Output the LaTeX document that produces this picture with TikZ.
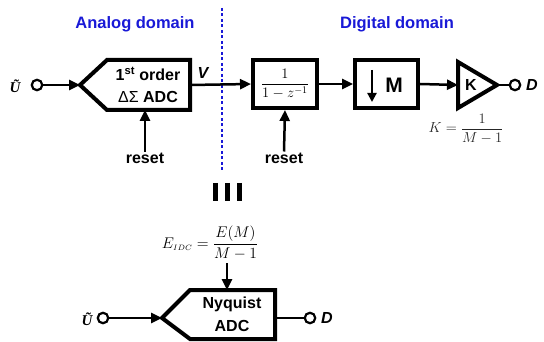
\RequirePackage{fix-cm}
\documentclass[tikz,border=0pt]{standalone}
\usepackage{amsmath}
\usepackage[no-math]{fontspec}
\setmainfont{Liberation Sans}
\newfontfamily\userif{Liberation Serif}
\usetikzlibrary{arrows.meta}
\definecolor{dblue}{RGB}{25,25,215}
\begin{document}
\begin{tikzpicture}[x=1pt,y=-1pt,
  blk/.style={line width=4pt,line join=miter},
  conn/.style={line width=2.5pt},
  arr/.style={conn,-{Triangle[length=11pt,width=10pt]}},
  port/.style={circle,draw,line width=2.2pt,minimum size=10.5pt,inner sep=0pt},
  lbl/.style={font=\fontsize{16}{18}\selectfont\bfseries,inner sep=1pt},
  dom/.style={font=\fontsize{16.5}{18}\selectfont\bfseries,text=dblue},
  pin/.style={font=\fontsize{15}{17}\selectfont\userif\bfseries\itshape,inner sep=0pt},
  mth/.style={font=\fontsize{15.5}{17}\selectfont,inner sep=0pt}]
\useasboundingbox (0,0) rectangle (544,342);

% domain titles and boundary
\node[dom] (tA) at (135,24) {Analog domain};
\node[dom] (tD) at (397,24) {Digital domain};
\draw[dblue,line width=1.6pt,dash pattern=on 3pt off 2.5pt] (222,8) -- (222,172);

% first-order delta-sigma ADC
\draw[blk] (80,85) -- (107,60) -- (190,60) -- (190,110) -- (107,110) -- cycle;
\coordinate (adcin) at (80,85);
\coordinate (adcout) at (190,85);
\coordinate (adcbot) at (145,110);
\node[lbl] (adcA) at (148,74) {1\textsuperscript{st} order};
\node[lbl] (adcB) at (148,97) {{\mdseries ΔΣ} ADC};

\node[pin] (u1) at (15,86) {Ũ};
\node[port] (c1) at (37,85) {};
\draw[arr] (c1) -- (adcin);

\node[lbl,font=\fontsize{16}{18}\selectfont\bfseries\itshape] (v) at (203,73) {V};

% integrator
\node[draw,blk,minimum width=64pt,minimum height=48pt,inner sep=0pt,
      font=\fontsize{14.5}{17}\selectfont] (int) at (285,84) {$\dfrac{1}{1-z^{-1}}$};
\draw[arr] (adcout) -- (int.west);

% decimator
\node[draw,blk,minimum width=63pt,minimum height=48pt] (dec) at (386.5,84) {};
\draw[line width=2.2pt,-{Triangle[length=9pt,width=9pt]}] (372,70) -- (372,102);
\node[font=\fontsize{21}{23}\selectfont\bfseries] (m) at (394,85) {M};
\draw[arr] (int.east) -- (dec.west);

% gain K
\draw[blk] (458,62) -- (497,85) -- (458,108) -- cycle;
\coordinate (kin) at (458,85);
\coordinate (kout) at (497,85);
\node[lbl] (k) at (471,85) {K};
\draw[arr] (dec.east) -- (kin);
\node[port] (c2) at (515,85) {};
\draw[conn] (kout) -- (c2);
\node[lbl,font=\fontsize{16}{18}\selectfont\bfseries\itshape] (d1) at (532,85) {D};
\node[mth,font=\fontsize{14.5}{17}\selectfont,text=black!85] (kf) at (466,129) {$K=\dfrac{1}{M-1}$};

% resets
\node[lbl] (r1) at (145,158) {reset};
\draw[arr] (r1.north) -- (adcbot);
\node[lbl] (r2) at (284,158) {reset};
\draw[arr] (r2.north) -- (int.south);

% equivalence sign
\foreach \xx in {215,227,239}
  \draw[line width=5pt] (\xx,183) -- (\xx,201);

% error formula
\node[mth] (eq) at (210,243) {$E_{\scriptscriptstyle IDC}=\dfrac{E(M)}{M-1}$};
\coordinate (eqb) at (227,263);
\coordinate (nqtop) at (227,290);
\draw[arr] (eqb) -- (nqtop);

% Nyquist ADC
\draw[blk] (162,318) -- (190,290) -- (275,290) -- (275,339) -- (190,339) -- cycle;
\coordinate (nqin) at (162,318);
\coordinate (nqout) at (275,318);
\node[lbl] (nqA) at (232,304) {Nyquist};
\node[lbl] (nqB) at (232,326) {ADC};
\node[pin] (u2) at (87,319) {Ũ};
\node[port] (c3) at (103,318) {};
\draw[arr] (c3) -- (nqin);
\node[port] (c4) at (310,318) {};
\draw[conn] (nqout) -- (c4);
\node[lbl,font=\fontsize{16}{18}\selectfont\bfseries\itshape] (d2) at (327,318) {D};
\end{tikzpicture}
\end{document}
